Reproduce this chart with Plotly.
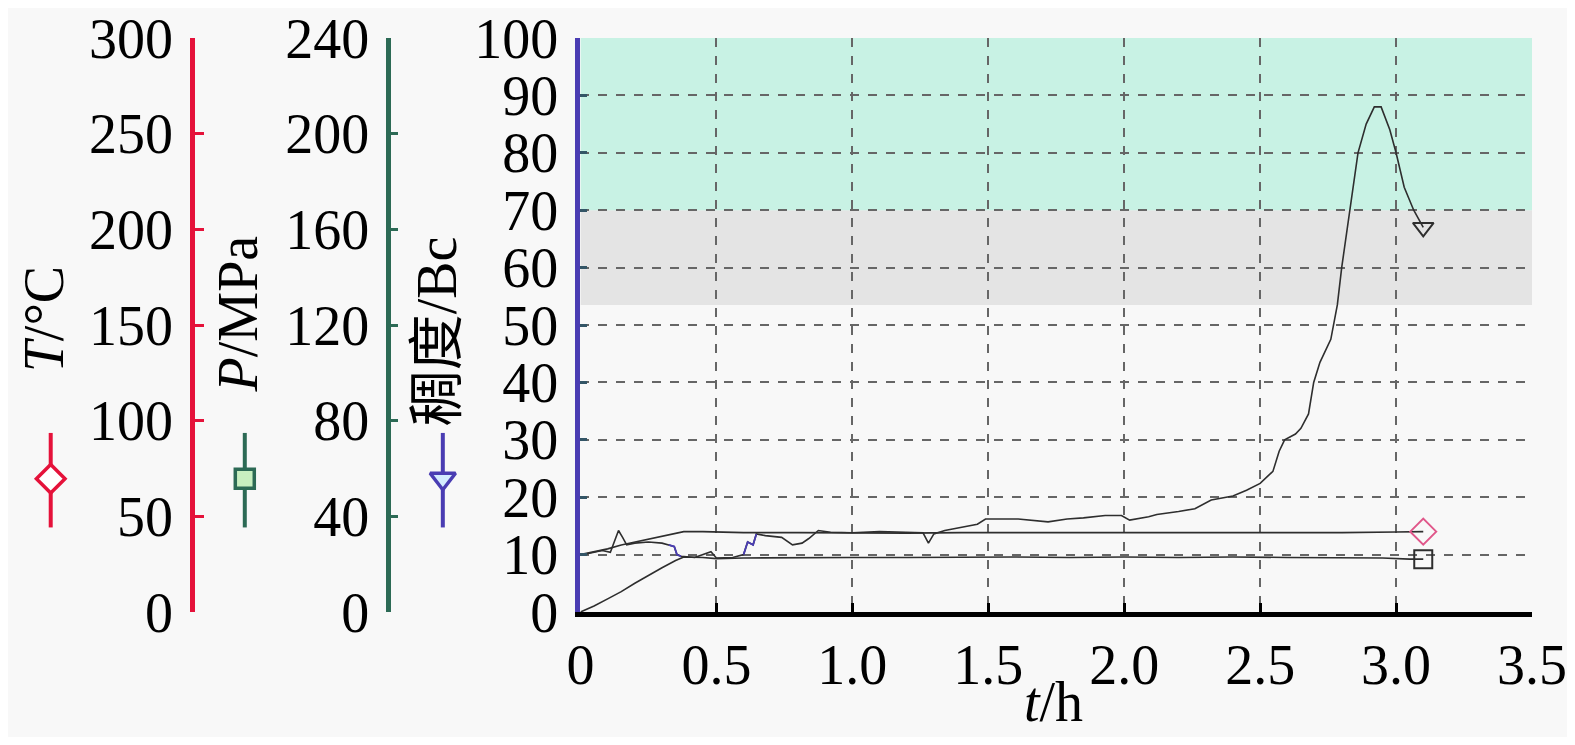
import plotly.graph_objects as go

# time axis, hours
t_bc = [0, 0.02, 0.05, 0.08, 0.11, 0.13, 0.14, 0.155, 0.17, 0.2, 0.25, 0.3,
        0.325, 0.345, 0.355, 0.37, 0.42, 0.46, 0.48, 0.5, 0.56, 0.6, 0.615,
        0.635, 0.647, 0.68, 0.74, 0.78, 0.815, 0.84, 0.875, 0.92, 1.0, 1.1,
        1.26, 1.28, 1.3, 1.34, 1.46, 1.49, 1.61, 1.72, 1.79, 1.85, 1.93, 1.99,
        2.02, 2.09, 2.12, 2.2, 2.26, 2.32, 2.4, 2.45, 2.5, 2.547, 2.57, 2.59,
        2.63, 2.65, 2.678, 2.697, 2.72, 2.76, 2.784, 2.8, 2.83, 2.86, 2.89,
        2.92, 2.945, 2.977, 3.0, 3.03, 3.065, 3.1]
# consistency, Bc
bc = [10, 10.1, 10.4, 10.7, 10.4, 13, 14.2, 13, 11.7, 12, 12.2, 12,
      11.7, 11.4, 10, 9.7, 9.5, 10.1, 10.5, 9.4, 9.5, 10, 12.2,
      11.7, 13.6, 13.3, 13, 11.7, 12, 12.8, 14.2, 13.9, 13.8, 14,
      13.8, 12, 13.6, 14.2, 15.3, 16.2, 16.2, 15.7, 16.2, 16.4, 16.8, 16.8,
      16, 16.6, 17, 17.5, 18, 19.5, 20.2, 21.2, 22.4, 24.5, 28, 30,
      31, 32, 34.5, 40, 43.5, 47.5, 53.5, 60, 70, 80, 85,
      88, 88, 84, 80, 74, 70, 67]
# parts of the consistency curve drawn in blue
blue_parts = [(12, 16), (21, 25)]

t_temp = [0, 0.05, 0.1, 0.15, 0.2, 0.25, 0.3, 0.35, 0.38, 0.45, 0.6, 0.8,
          1.0, 1.2, 1.4, 1.6, 1.8, 2.0, 2.2, 2.4, 2.6, 2.8, 3.0, 3.1]
temp = [30, 31.5, 33, 35, 36.5, 38, 39.5, 41, 42, 42, 41.5, 41.5,
        41.2, 41.2, 41.5, 41.5, 41.2, 41.5, 41.2, 41.5, 41.5, 41.5, 41.8, 42]

t_pres = [0, 0.05, 0.1, 0.15, 0.2, 0.25, 0.3, 0.35, 0.38, 0.45, 0.5, 0.6,
          0.8, 1.0, 1.2, 1.4, 1.6, 1.8, 2.0, 2.2, 2.4, 2.6, 2.8, 2.95, 3.05, 3.1]
pres = [0, 2.5, 5.5, 8.5, 12, 15.3, 18.5, 21.5, 23, 22.8, 22.3, 22.6,
        22.8, 22.8, 22.8, 23, 23, 22.8, 23, 22.8, 23, 22.8, 22.6, 22.6, 22.1, 22.1]

# consistency bands
band_gray = (53.5, 70)
band_green = (70, 100)

x_ticks = [0, 0.5, 1.0, 1.5, 2.0, 2.5, 3.0, 3.5]
x_ticktext = ["0", "0.5", "1.0", "1.5", "2.0", "2.5", "3.0", "3.5"]

RED = "#e5123a"
GREEN = "#2c6a55"
BLUE = "#4a3db3"
LINE = "#2e2e2e"
BG = "#f8f8f8"
FONT = "Liberation Serif, Noto Sans CJK SC, serif"
FS = 56

# the page puts the figure 8px in from each edge; keep it inside the window
OFF = 8
W, H = 1575 - 2 * OFF, 745 - 2 * OFF
MT, MB = 35 - OFF, H - (612 - OFF)
ML, MR = 0, W - (1533 - OFF)
PW = W - ML - MR
PH = H - MT - MB


def px(x):
    return (x - OFF - ML) / PW


def py(y):
    return (H - MB - (y - OFF)) / PH


fig = go.Figure()

fig.add_trace(go.Scatter(x=t_bc, y=bc, mode="lines",
                         line=dict(color=LINE, width=1.6), showlegend=False))
for a, b in blue_parts:
    fig.add_trace(go.Scatter(x=t_bc[a:b], y=bc[a:b], mode="lines",
                             line=dict(color=BLUE, width=1.8), showlegend=False))
fig.add_trace(go.Scatter(x=t_temp, y=temp, yaxis="y2", mode="lines",
                         line=dict(color=LINE, width=1.6), showlegend=False))
fig.add_trace(go.Scatter(x=t_pres, y=pres, yaxis="y3", mode="lines",
                         line=dict(color=LINE, width=1.6), showlegend=False))

# end markers
fig.add_trace(go.Scatter(x=[t_bc[-1]], y=[bc[-1]], mode="markers",
                         marker=dict(symbol="triangle-down-open", size=18,
                                     color=LINE, line=dict(width=2)),
                         showlegend=False))
fig.add_trace(go.Scatter(x=[t_temp[-1]], y=[temp[-1]], yaxis="y2", mode="markers",
                         marker=dict(symbol="diamond-open", size=20,
                                     color="#e0578a", line=dict(width=2)),
                         showlegend=False))
fig.add_trace(go.Scatter(x=[t_pres[-1]], y=[pres[-1]], yaxis="y3", mode="markers",
                         marker=dict(symbol="square-open", size=18,
                                     color=LINE, line=dict(width=2)),
                         showlegend=False))

# key symbols at the left, drawn on a paper-sized overlay axis (screen px)
keys = [(37, RED, "diamond", "white", 22),
        (233, GREEN, "square", "#c8efc0", 19),
        (433, BLUE, "triangle-down", "#d4ecff", 22)]
for kx, kc, sym, fill, size in keys:
    fig.add_trace(go.Scatter(x=[px(kx), px(kx)], y=[py(432), py(527)],
                             xaxis="x2", yaxis="y4", mode="lines",
                             line=dict(color=kc, width=4), showlegend=False))
    fig.add_trace(go.Scatter(x=[px(kx)], y=[py(478)], xaxis="x2", yaxis="y4",
                             mode="markers",
                             marker=dict(symbol=sym, size=size, color=fill,
                                         line=dict(color=kc, width=3.5)),
                             showlegend=False))

for lo, hi, col in [(band_gray[0], band_gray[1], "#e4e4e4"),
                    (band_green[0], band_green[1], "#c8f2e4")]:
    fig.add_shape(type="rect", xref="x", yref="y", x0=0, x1=3.5, y0=lo, y1=hi,
                  fillcolor=col, line=dict(width=0), layer="below")

grid = dict(showgrid=True, gridcolor="#666666", griddash="dash", gridwidth=1.5)
tickfont = dict(family=FONT, size=FS, color="black")

fig.update_layout(
    width=W, height=H,
    margin=dict(l=ML, r=MR, t=MT, b=MB),
    paper_bgcolor=BG, plot_bgcolor="rgba(0,0,0,0)",
    font=dict(family=FONT, size=FS, color="black"),
    xaxis=dict(domain=[px(572), 1], range=[0, 3.5], tickvals=x_ticks,
               ticktext=x_ticktext, tickfont=tickfont, showline=True,
               linecolor="black", linewidth=5, ticks="inside", ticklen=9,
               tickwidth=3, tickcolor="black", zeroline=False,
               ticklabelstandoff=0, ticklabeloverflow="allow", **grid),
    yaxis=dict(range=[0, 100], dtick=10, tickfont=tickfont, showline=True,
               linecolor=BLUE, linewidth=5, ticks="inside", ticklen=7,
               tickwidth=3, tickcolor="#335566", zeroline=False,
               ticklabelstandoff=6, ticklabeloverflow="allow", **grid),
    yaxis2=dict(range=[0, 300], dtick=50, overlaying="y", anchor="free",
                position=px(180), side="left", tickfont=tickfont, showline=True,
                linecolor=RED, linewidth=5, ticks="inside", ticklen=9,
                tickwidth=3, tickcolor=RED, showgrid=False, zeroline=False,
                ticklabelstandoff=6, ticklabeloverflow="allow"),
    yaxis3=dict(range=[0, 240], dtick=40, overlaying="y", anchor="free",
                position=px(378), side="left", tickfont=tickfont, showline=True,
                linecolor=GREEN, linewidth=5, ticks="inside", ticklen=7,
                tickwidth=3, tickcolor=GREEN, showgrid=False, zeroline=False,
                ticklabelstandoff=6, ticklabeloverflow="allow"),
    xaxis2=dict(domain=[0, 1], range=[0, 1], visible=False, anchor="y4"),
    yaxis4=dict(domain=[0, 1], range=[0, 1], visible=False, anchor="x2"),
)

titles = [("<i>T</i>/°C", 30, 318, -90),
          ("<i>P</i>/MPa", 226, 312, -90),
          ("稠度/Bc", 428, 330, -90),
          ("<i>t</i>/h", 1050, 702, 0)]
for text, tx, ty, ang in titles:
    fig.add_annotation(text=text, xref="paper", yref="paper", x=px(tx), y=py(ty),
                       showarrow=False, textangle=ang, xanchor="center",
                       yanchor="middle", font=dict(family=FONT, size=FS))

fig.write_html("out.html")
